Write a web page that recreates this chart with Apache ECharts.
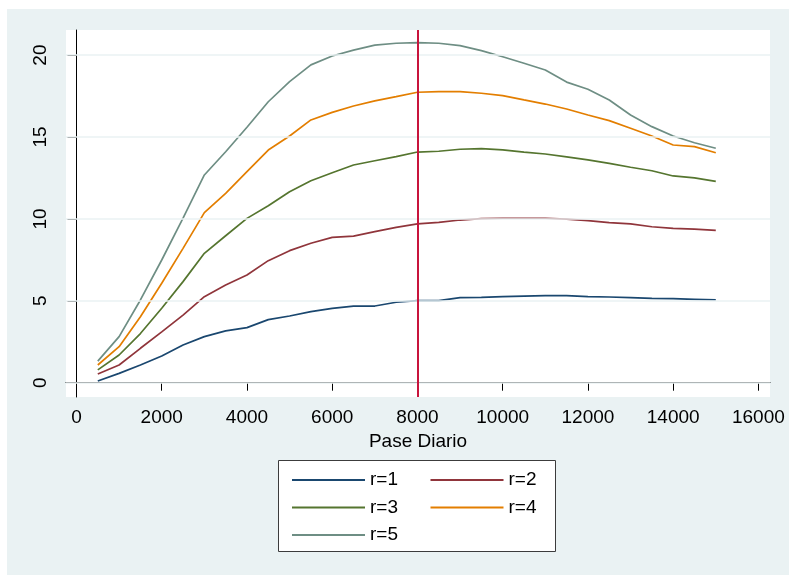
<!DOCTYPE html>
<html>
<head>
<meta charset="utf-8">
<script src="https://cdn.jsdelivr.net/npm/echarts@6/dist/echarts.min.js"></script>
<style>
  html, body { margin: 0; padding: 0; background: #fff; }
  #chart { width: 789px; height: 575px; }
</style>
</head>
<body>
<div id="chart"></div>
<script>
// pase diario (x)
const paseDiario = [500, 1000, 1500, 2000, 2500, 3000, 3500, 4000, 4500, 5000,
  5500, 6000, 6500, 7000, 7500, 8000, 8500, 9000, 9500, 10000,
  10500, 11000, 11500, 12000, 12500, 13000, 13500, 14000, 14500, 15000]

const r1 = [0.10, 0.57, 1.08, 1.63, 2.30, 2.81, 3.16, 3.36, 3.85, 4.07,
  4.34, 4.54, 4.68, 4.68, 4.91, 5.01, 5.01, 5.19, 5.21, 5.25,
  5.29, 5.31, 5.31, 5.25, 5.23, 5.19, 5.15, 5.13, 5.09, 5.05]
const r2 = [0.53, 1.08, 2.10, 3.10, 4.13, 5.25, 5.96, 6.57, 7.45, 8.06,
  8.51, 8.87, 8.95, 9.22, 9.48, 9.69, 9.79, 9.93, 10.01, 10.04,
  10.04, 10.04, 9.98, 9.89, 9.77, 9.69, 9.52, 9.42, 9.38, 9.30]
const r3 = [0.78, 1.69, 3.00, 4.54, 6.17, 7.90, 8.97, 10.03, 10.80, 11.66,
  12.33, 12.82, 13.29, 13.55, 13.80, 14.08, 14.13, 14.25, 14.29, 14.21,
  14.08, 13.96, 13.78, 13.60, 13.39, 13.15, 12.94, 12.62, 12.50, 12.29]
const r4 = [1.08, 2.20, 4.03, 6.07, 8.20, 10.38, 11.56, 12.88, 14.20, 15.06,
  16.04, 16.50, 16.89, 17.20, 17.46, 17.73, 17.77, 17.77, 17.67, 17.52,
  17.26, 17.01, 16.71, 16.34, 16.00, 15.53, 15.06, 14.51, 14.41, 14.04]
const r5 = [1.32, 2.81, 5.05, 7.49, 10.04, 12.68, 14.10, 15.59, 17.15, 18.38,
  19.40, 19.94, 20.30, 20.61, 20.72, 20.76, 20.72, 20.58, 20.27, 19.90,
  19.50, 19.09, 18.35, 17.91, 17.26, 16.34, 15.63, 15.06, 14.65, 14.31]

const seriesNames = ['r=1', 'r=2', 'r=3', 'r=4', 'r=5']
const xTicks = [0, 2000, 4000, 6000, 8000, 10000, 12000, 14000, 16000]
const yTicks = [0, 5, 10, 15, 20]
const refLineX = 8000

const colors = ['#1a476f', '#90353b', '#55752f', '#e37e00', '#6e8e84']
const font = '"Liberation Sans", Arial, sans-serif'

const chart = echarts.init(document.getElementById('chart'))

const lines = [r1, r2, r3, r4, r5].map((vals, i) => ({
  name: seriesNames[i],
  type: 'line',
  symbol: 'none',
  animation: false,
  data: paseDiario.map((x, j) => [x, vals[j]]),
  lineStyle: { color: colors[i], width: 1.7 },
  itemStyle: { color: colors[i] },
  z: 3
}))

// grid lines + vertical reference line
lines.push({
  name: 'ref',
  type: 'line',
  data: [],
  silent: true,
  animation: false,
  markLine: {
    symbol: 'none',
    silent: true,
    label: { show: false },
    animation: false,
    data: yTicks.map(v => ({ yAxis: v, lineStyle: { color: '#eaf2f3', width: 1.5, type: 'solid' } }))
      .concat([{ xAxis: refLineX, lineStyle: { color: '#c8143c', width: 2, type: 'solid' } }])
  },
  z: 2
})

chart.setOption({
  backgroundColor: '#eaf2f3',
  animation: false,
  color: colors,
  textStyle: { fontFamily: font },
  graphic: [
    { type: 'rect', shape: { x: 0, y: 0, width: 789, height: 9 }, style: { fill: '#fff' }, silent: true },
    { type: 'rect', shape: { x: 0, y: 0, width: 7, height: 575 }, style: { fill: '#fff' }, silent: true },
    { type: 'rect', shape: { x: 278.5, y: 460.5, width: 277, height: 91 }, style: { fill: '#fff', stroke: '#3c3c3c', lineWidth: 1 }, silent: true, z: 1 }
  ],
  grid: {
    left: 66, top: 30, right: 19, bottom: 178,
    show: true, backgroundColor: '#fff', borderWidth: 0
  },
  legend: {
    data: seriesNames,
    left: 287,
    top: 465,
    width: 290,
    icon: 'rect',
    itemWidth: 73,
    itemHeight: 2,
    itemGap: 7.5,
    textStyle: { fontFamily: font, fontSize: 19, color: '#000', width: 53, lineHeight: 20 },
    z: 5
  },
  xAxis: {
    type: 'value',
    min: -246,
    max: 16272,
    name: 'Pase Diario',
    nameLocation: 'middle',
    nameGap: 33,
    nameTextStyle: { fontFamily: font, fontSize: 19, color: '#000' },
    axisLine: { show: true, lineStyle: { color: '#000', width: 1 } },
    axisTick: { show: true, length: 8, customValues: xTicks, lineStyle: { color: '#000' } },
    axisLabel: { customValues: xTicks, margin: 11, fontFamily: font, fontSize: 19, color: '#000', formatter: v => String(v) },
    splitLine: { show: false }
  },
  yAxis: {
    type: 'value',
    min: -0.873,
    max: 21.53,
    axisLine: { show: true, lineStyle: { color: '#000', width: 1 } },
    axisTick: { show: true, length: 9, customValues: yTicks, lineStyle: { color: '#000' } },
    axisLabel: { customValues: yTicks, rotate: 90, margin: 16, fontFamily: font, fontSize: 19, color: '#000', formatter: v => String(v) },
    splitLine: { show: false }
  },
  series: lines
})
</script>
</body>
</html>
